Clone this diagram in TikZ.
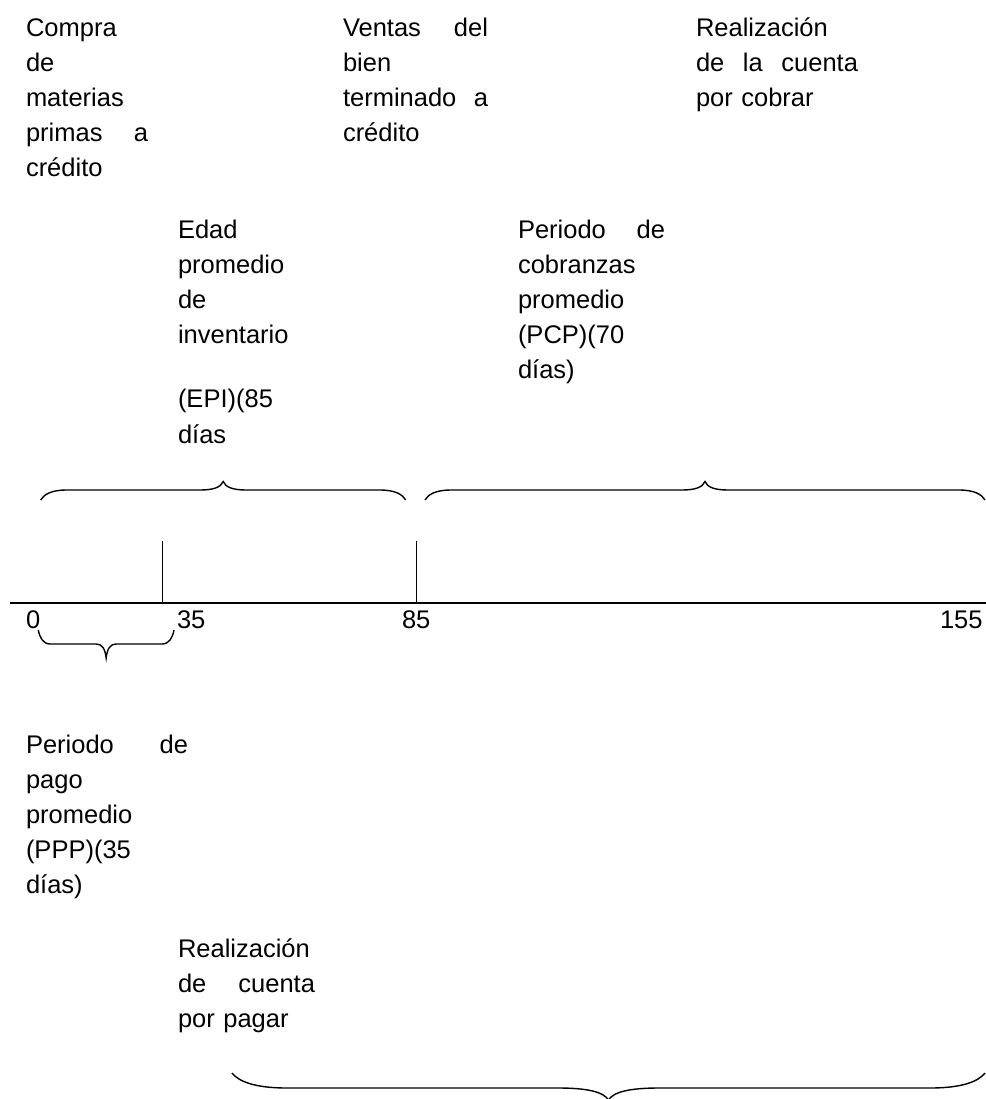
\documentclass[tikz,border=0pt]{standalone}
\usepackage{fontspec}
\setmainfont{Liberation Sans}
% #1 left x, #2 right x, #3 end y, #4 flat y, #5 tip y, #6 end-corner length, #7 tip-curve length
\newcommand\wordbrace[7]{%
  \pgfmathsetmacro\wbxm{(#1+#2)/2}%
  \pgfmathsetmacro\wbya{#4+0.45*(#3-#4)}%
  \pgfmathsetmacro\wbyb{#4+0.3*(#5-#4)}%
  \pgfmathsetmacro\wbxa{#1+0.12*#6}%
  \pgfmathsetmacro\wbxb{#1+0.4*#6}%
  \pgfmathsetmacro\wbxc{#1+#6}%
  \pgfmathsetmacro\wbxd{\wbxm-#7}%
  \pgfmathsetmacro\wbxe{\wbxm-0.45*#7}%
  \pgfmathsetmacro\wbxf{\wbxm-0.1*#7}%
  \pgfmathsetmacro\wbxg{\wbxm+0.1*#7}%
  \pgfmathsetmacro\wbxh{\wbxm+0.45*#7}%
  \pgfmathsetmacro\wbxi{\wbxm+#7}%
  \pgfmathsetmacro\wbxj{#2-#6}%
  \pgfmathsetmacro\wbxk{#2-0.4*#6}%
  \pgfmathsetmacro\wbxl{#2-0.12*#6}%
  \draw[bracestyle] (#1,#3)
    .. controls (\wbxa,\wbya) and (\wbxb,#4) .. (\wbxc,#4)
    -- (\wbxd,#4)
    .. controls (\wbxe,#4) and (\wbxf,\wbyb) .. (\wbxm,#5)
    .. controls (\wbxg,\wbyb) and (\wbxh,#4) .. (\wbxi,#4)
    -- (\wbxj,#4)
    .. controls (\wbxk,#4) and (\wbxl,\wbya) .. (#2,#3);%
}
\begin{document}
\begin{tikzpicture}[x=0.5pt,y=-0.5pt,
  blk/.style={anchor=base west,inner sep=0pt,outer sep=0pt,align=left,font=\fontsize{12.75pt}{17.6pt}\selectfont},
  num/.style={anchor=base west,inner sep=0pt,outer sep=0pt,font=\fontsize{12.75pt}{15pt}\selectfont},
  axisline/.style={line width=1pt},
  tickline/.style={line width=0.7pt},
  bracestyle/.style={line width=0.7pt},
]
\useasboundingbox (0,0) rectangle (986,1099);

% top texts
\node[blk,text width=61pt] (compra) at (26,36) {Compra\\de\\materias\\primas\hfill a\\crédito};
\node[blk,text width=72.5pt] (ventas) at (343,36) {Ventas\hfill del\\bien\\terminado\hfill a\\crédito};
\node[blk,text width=81pt] (realcob) at (696,36) {Realización\\de\hfill la\hfill cuenta\\por cobrar};

% middle texts
\node[blk,text width=60pt] (edad) at (178,238) {Edad\\promedio\\de\\inventario\\[14.5pt](EPI)(85\\días};
\node[blk,text width=73.5pt] (pcp) at (518,238) {Periodo\hfill de\\cobranzas\\promedio\\(PCP)(70\\días)};

% braces above the axis
\wordbrace{40.7}{405.7}{500}{490}{481.5}{26}{23}
\wordbrace{425}{985}{500}{490}{481.5}{26}{23}

% axis and ticks
\coordinate (axl) at (10,603.3);
\coordinate (axr) at (986,603.3);
\coordinate (t1top) at (162.7,540.7);
\coordinate (t1bot) at (162.7,603.3);
\coordinate (t2top) at (416.7,540.7);
\coordinate (t2bot) at (416.7,603.3);
\draw[axisline] (axl) -- (axr);
\draw[tickline] (t1top) -- (t1bot);
\draw[tickline] (t2top) -- (t2bot);

% numbers
\node[num] (n0) at (26,628) {0};
\node[num] (n35) at (177,628) {35};
\node[num] (n85) at (402,628) {85};
\node[num] (n155) at (940,628) {155};

% small brace under 0-35
\wordbrace{38.3}{174}{630}{644}{658}{12}{10}

% lower texts
\node[blk,text width=81pt] (ppp) at (26,753) {Periodo\hfill de\\pago\\promedio\\(PPP)(35\\días)};
\node[blk,text width=68.5pt] (realpag) at (178,957) {Realización\\de\hfill cuenta\\por pagar};

% bottom brace
\wordbrace{232}{985}{1073}{1088}{1100}{55}{50}
\end{tikzpicture}
\end{document}
